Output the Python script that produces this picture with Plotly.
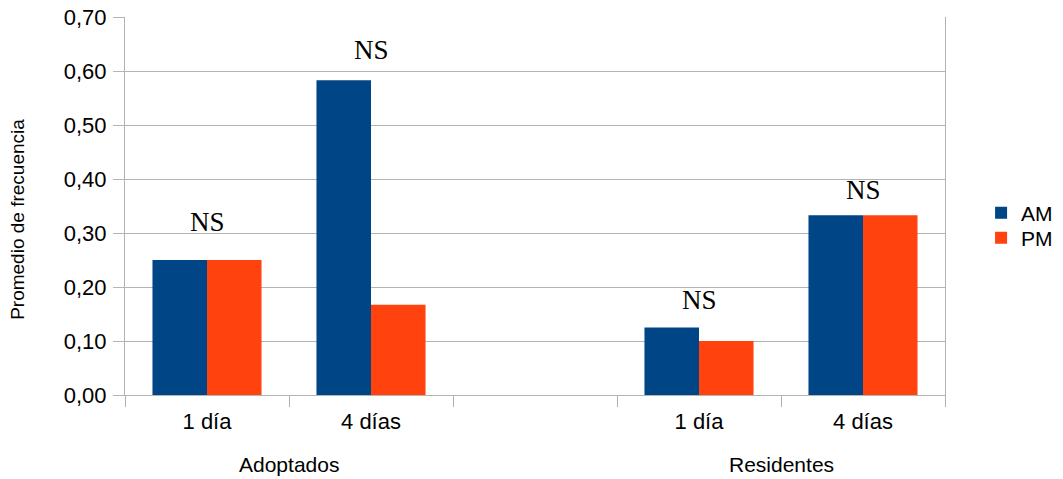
import plotly.graph_objects as go

# Data
slots = [0, 1, 3, 4]                      # category slots (slot 2 is an empty gap)
tick_labels = ["1 día", "4 días", "1 día", "4 días"]
groups = ["Adoptados", "Residentes"]
group_pos = [0.5, 3.5]
am = [0.25, 0.583, 0.125, 0.333]
pm = [0.25, 0.167, 0.10, 0.333]
ns_labels = ["NS", "NS", "NS", "NS"]
ns_y = [0.320, 0.639, 0.176, 0.380]

AM_COLOR = "#004586"
PM_COLOR = "#ff420e"
GRID = "#b3b3b3"
SANS = "Liberation Sans, Arial, sans-serif"

fig = go.Figure()
fig.add_trace(go.Bar(x=slots, y=am, name="AM", legend="legend",
                     marker=dict(color=AM_COLOR, line_width=0)))
fig.add_trace(go.Bar(x=slots, y=pm, name="PM", legend="legend2",
                     marker=dict(color=PM_COLOR, line_width=0)))

annotations = []
for xv, yv, t in zip(slots, ns_y, ns_labels):
    annotations.append(dict(x=xv, y=yv, xref="x", yref="y", text=t, showarrow=False,
                            xanchor="center", yanchor="middle",
                            font=dict(family="Liberation Serif, Times New Roman, serif", size=27, color="#000000")))
for g, gp in zip(groups, group_pos):
    annotations.append(dict(x=gp, y=-0.185, xref="x", yref="paper", text=g, showarrow=False,
                            xanchor="center", yanchor="middle",
                            font=dict(family=SANS, size=21, color="#000000")))
annotations.append(dict(x=-0.1305, y=0.466, xref="paper", yref="paper", text="Promedio de frecuencia",
                        textangle=-90, showarrow=False, xanchor="center", yanchor="middle",
                        font=dict(family=SANS, size=19, color="#000000")))

legend_font = dict(family=SANS, size=21, color="#000000")
fig.update_layout(
    width=1063, height=479,
    margin=dict(l=125, r=118, t=17, b=84, autoexpand=False),
    paper_bgcolor="white", plot_bgcolor="white",
    barmode="group", bargap=0.335, bargroupgap=0,
    separators=", ",
    showlegend=True,
    legend=dict(x=1.044, y=0.481, xanchor="left", yanchor="middle", font=legend_font,
                itemwidth=30, bgcolor="rgba(0,0,0,0)"),
    legend2=dict(x=1.044, y=0.415, xanchor="left", yanchor="middle", font=legend_font,
                 itemwidth=30, bgcolor="rgba(0,0,0,0)"),
    annotations=annotations,
    xaxis=dict(range=[-0.5, 4.5], tickmode="array", tickvals=slots, ticktext=tick_labels,
               ticks="", ticklabelstandoff=7, showgrid=False, zeroline=False,
               showline=True, linecolor=GRID, linewidth=1,
               tickfont=dict(family=SANS, size=22, color="#000000"),
               minor=dict(tickmode="linear", tick0=-0.5, dtick=1, ticks="outside",
                          ticklen=11, tickcolor=GRID, showgrid=False)),
    yaxis=dict(range=[0, 0.7], dtick=0.1, tickformat=".2f", ticks="outside", ticklen=11,
               ticklabelstandoff=2, ticklabeloverflow="allow",
               tickcolor=GRID, showgrid=True, gridcolor=GRID, gridwidth=1,
               zeroline=False, showline=True, linecolor=GRID, linewidth=1, mirror=True,
               tickfont=dict(family=SANS, size=22, color="#000000")),
)

fig.write_html("out.html", config={"displayModeBar": False},
               post_script="document.body.style.margin='0px';")
